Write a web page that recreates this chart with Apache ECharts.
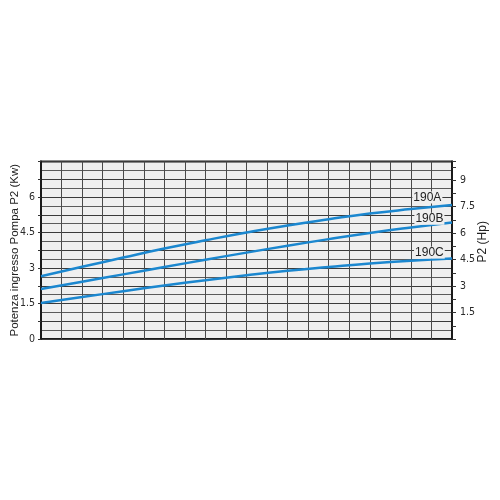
<!DOCTYPE html>
<html><head><meta charset="utf-8">
<script src="https://cdn.jsdelivr.net/npm/echarts@6/dist/echarts.min.js"></script>
<style>html,body{margin:0;padding:0;background:#fff}#c{width:500px;height:500px}</style>
</head><body><div id="c"></div>
<script>
const xCols = [0, 2, 4, 6, 8, 10, 12, 14, 16, 18, 20];
const s190A = [2.65, 3.05, 3.44, 3.82, 4.17, 4.50, 4.80, 5.06, 5.30, 5.49, 5.66];
const s190B = [2.11, 2.42, 2.73, 3.04, 3.35, 3.65, 3.94, 4.22, 4.48, 4.71, 4.92];
const s190C = [1.52, 1.77, 2.02, 2.26, 2.48, 2.69, 2.88, 3.04, 3.19, 3.31, 3.40];
const seriesNames = ['190A', '190B', '190C'];
const labelAt = [[18.8, 5.98], [18.9, 5.08], [18.9, 3.65]];
const kwMax = 7.5;
const hpMax = 7.5 * 1.341;

const font = 'Liberation Sans, Arial, sans-serif';
const tickFont = 'DejaVu Sans Condensed, DejaVu Sans, sans-serif';
function mk(name, vals, i) {
  return {
    name, type: 'line', smooth: true, showSymbol: false, yAxisIndex: 0,
    data: xCols.map((x, k) => [x, vals[k]]),
    lineStyle: { color: '#1b87cf', width: 2.5 },
    markPoint: {
      symbol: 'rect', symbolSize: 0, silent: true,
      data: [{ coord: labelAt[i], value: name }],
      label: { show: true, position: 'inside', formatter: name, color: '#222', fontSize: 12, fontFamily: font,
        backgroundColor: '#efefef', padding: [0, 1] }
    }
  };
}
const chart = echarts.init(document.getElementById('c'));
chart.setOption({
  animation: false,
  grid: { left: 41, right: 48, top: 161.5, bottom: 161, show: true, containLabel: false, outerBoundsMode: 'none',
    backgroundColor: '#efefef', borderColor: '#1a1a1a', borderWidth: 2 },
  xAxis: { type: 'value', min: 0, max: 20, interval: 1,
    axisLine: { show: false }, axisTick: { show: false }, axisLabel: { show: false },
    splitLine: { show: true, lineStyle: { color: '#4a4a4a', width: 1 } } },
  yAxis: [
    { type: 'value', min: 0, max: kwMax, interval: 0.75, position: 'left',
      name: 'Potenza ingresso Pompa P2 (Kw)', nameLocation: 'middle', nameRotate: 90, nameGap: 20,
      nameMoveOverlap: false,
      nameTextStyle: { fontSize: 11.5, color: '#222', fontFamily: font },
      axisLine: { show: true, lineStyle: { color: '#1a1a1a', width: 2 } },
      axisTick: { show: true, inside: false, length: 3, lineStyle: { color: '#333' } },
      axisLabel: { color: '#2a2a2a', fontSize: 10.5, fontFamily: tickFont, margin: 6,
        formatter: v => (Math.abs(v / 1.5 - Math.round(v / 1.5)) < 1e-6 && v < 7.4) ? String(v) : '' },
      splitLine: { show: true, lineStyle: { color: '#3a3a3a', width: 1 } },
      minorTick: { show: false, splitNumber: 2 },
      minorSplitLine: { show: true, lineStyle: { color: '#5a5a5a', width: 1 } } },
    { type: 'value', min: 0, max: hpMax, interval: 0.75, position: 'right',
      name: 'P2 (Hp)', nameLocation: 'middle', nameRotate: 90, nameGap: 25,
      nameMoveOverlap: false,
      nameTextStyle: { fontSize: 12, color: '#222', fontFamily: font, padding: [0, 0, 0, 17] },
      axisLine: { show: true, lineStyle: { color: '#1a1a1a', width: 2 } },
      axisTick: { show: true, inside: false, length: 4, lineStyle: { color: '#333' } },
      axisLabel: { color: '#2a2a2a', fontSize: 10.5, fontFamily: tickFont, margin: 8,
        formatter: v => (v > 0 && Math.abs(v / 1.5 - Math.round(v / 1.5)) < 1e-6) ? String(v) : '' },
      splitLine: { show: false } }
  ],
  series: [mk('190A', s190A, 0), mk('190B', s190B, 1), mk('190C', s190C, 2)]
});
</script></body></html>
